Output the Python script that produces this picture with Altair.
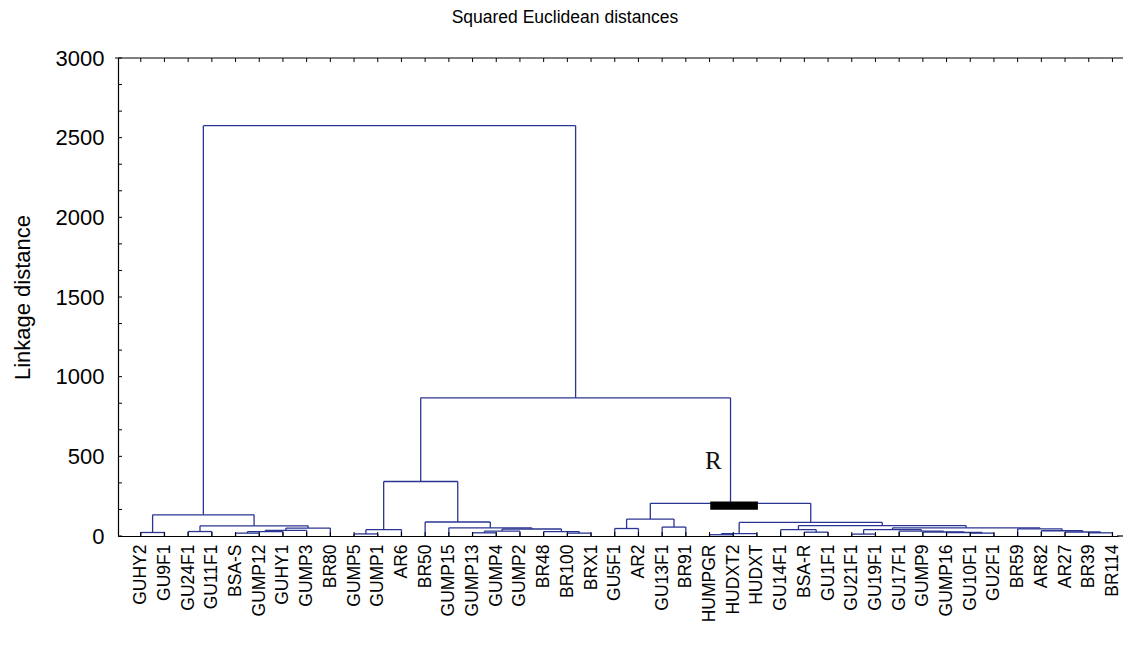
import altair as alt
import pandas as pd
import numpy as np

# ---------------- data ----------------
LEAVES = ["GUHY2", "GU9F1", "GU24F1", "GU11F1", "BSA-S", "GUMP12", "GUHY1", "GUMP3",
          "BR80", "GUMP5", "GUMP1", "AR6", "BR50", "GUMP15", "GUMP13", "GUMP4", "GUMP2",
          "BR48", "BR100", "BRX1", "GU5F1", "AR2", "GU13F1", "BR91", "HUMPGR", "HUDXT2",
          "HUDXT", "GU14F1", "BSA-R", "GU1F1", "GU21F1", "GU19F1", "GU17F1", "GUMP9",
          "GUMP16", "GU10F1", "GU2F1", "BR59", "AR82", "AR27", "BR39", "BR114"]

# merges: (cluster name, left child, right child, linkage distance)
# integers = leaf positions (1-based), strings = earlier clusters
MERGE_NAME = ["a", "b", "c", "d", "e", "f", "g", "h",
              "i", "j", "k", "l", "m", "n", "o", "p", "q", "r",
              "s", "t", "u", "v", "w", "x", "y", "z1", "z2", "z3", "z4", "z5", "z6",
              "z7", "z8", "z9", "z10", "z11", "z12", "z13", "z14", "z15", "root"]
MERGE_LEFT = [1, 3, 5, "c", "d", "e", "b", "a",
              10, "i", 15, "k", 19, 18, "l", 14, 13, "j",
              21, 23, "s", 25, "v", 29, 28, 31, 36, 35, 34, 33, "z1",
              41, 40, 39, 38, "z6", "y", "w", "u", "r", "h"]
MERGE_RIGHT = [2, 4, 6, 7, 8, 9, "f", "g",
               11, 12, 16, 17, 20, "m", "n", "o", "p", "q",
               22, 24, "t", 26, 27, 30, "x", 32, 37, "z2", "z3", "z4", "z5",
               42, "z7", "z8", "z9", "z10", "z11", "z12", "z13", "z14", "z15"]
MERGE_DIST = [22, 28, 18, 28, 35, 50, 64, 133,
              13, 40, 20, 30, 18, 28, 44, 51, 88, 342,
              47, 56, 106, 8, 15, 24, 40, 12, 18, 22, 25, 30, 40,
              20, 25, 33, 45, 51, 65, 85, 205, 867, 2575]

# annotation "R" and its bar
R_LABEL = ["R"]
R_POS = [25.16, 469]
R_BAR_X = [25.03, 27.04]
R_BAR_Y = [165, 217]

TITLE = "Squared Euclidean distances"
Y_TITLE = "Linkage distance"
Y_LABELS = [0, 500, 1000, 1500, 2000, 2500, 3000]

# ---------------- build dendrogram segments ----------------
pos = {i + 1: float(i + 1) for i in range(len(LEAVES))}
hgt = {i + 1: 0.0 for i in range(len(LEAVES))}
segs = []
for nm, l, r, h in zip(MERGE_NAME, MERGE_LEFT, MERGE_RIGHT, MERGE_DIST):
    segs.append(dict(x=pos[l], x2=pos[l], y=hgt[l], y2=h))
    segs.append(dict(x=pos[r], x2=pos[r], y=hgt[r], y2=h))
    segs.append(dict(x=pos[l], x2=pos[r], y=h, y2=h))
    pos[nm] = (pos[l] + pos[r]) / 2
    hgt[nm] = h
seg_df = pd.DataFrame(segs)

leaf_df = pd.DataFrame({"x": np.arange(1, len(LEAVES) + 1), "name": LEAVES})
ytick_df = pd.DataFrame({"y": np.linspace(0, 3000, 19)})
one = pd.DataFrame({"k": [0]})

W, H = 1000, 478
PAD_R = 5
STEP = 23.7
FONT = "Liberation Sans"
LINE = "#2a3592"

xscale = alt.Scale(domain=[0.04, 0.04 + W / STEP], nice=False, zero=False)
yscale = alt.Scale(domain=[0, 3000], nice=False, zero=True)

label_expr = "[" + ",".join("'%s'" % n for n in LEAVES) + "][datum.value - 1]"

X_AXIS = alt.Axis(values=list(range(1, len(LEAVES) + 1)), labelExpr=label_expr,
                  labelAngle=270, labelFontSize=17.5, labelFont=FONT, labelColor="black",
                  labelPadding=8, labelOverlap=False, labelBound=False, labelFlush=False,
                  ticks=False, grid=False, domainColor="black", domainWidth=1.2,
                  title=None)
Y_AXIS = alt.Axis(values=Y_LABELS, format="d", ticks=False, grid=False, labelFontSize=22,
                  labelFont=FONT, labelColor="black", labelPadding=14,
                  domainColor="black", domainWidth=1.2,
                  title=Y_TITLE, titleFont=FONT, titleFontSize=22,
                  titleFontWeight="normal", titleColor="black", titleAngle=270,
                  titleX=-96, titleY=239, titleAlign="center",
                  titleBaseline="middle")


def X(field="x"):
    return alt.X(field + ":Q", scale=xscale, axis=X_AXIS)


def Y(field="y"):
    return alt.Y(field + ":Q", scale=yscale, axis=Y_AXIS)


tree = alt.Chart(seg_df).mark_rule(color=LINE, strokeWidth=1.3).encode(
    x=X(), x2="x2:Q", y=Y(), y2="y2:Q")

bottom_ticks = alt.Chart(leaf_df).mark_rule(color="black", strokeWidth=1).encode(
    x=X(), y=alt.value(H), y2=alt.value(H - 4))
top_ticks = alt.Chart(leaf_df).mark_rule(color="black", strokeWidth=1).encode(
    x=X(), y=alt.value(0), y2=alt.value(4))
left_ticks = alt.Chart(ytick_df).mark_rule(color="black", strokeWidth=1).encode(
    y=Y(), x=alt.value(0), x2=alt.value(4))
top_line = alt.Chart(one).mark_rule(color="black", strokeWidth=1.2).encode(
    x=alt.value(-3), x2=alt.value(W + PAD_R), y=alt.value(0))
bottom_ext = alt.Chart(one).mark_rule(color="black", strokeWidth=1.2).encode(
    x=alt.value(W - 1), x2=alt.value(W + PAD_R), y=alt.value(H))

bar_df = pd.DataFrame({"x": [R_BAR_X[0]], "x2": [R_BAR_X[1]],
                       "y": [R_BAR_Y[0]], "y2": [R_BAR_Y[1]]})
bar = alt.Chart(bar_df).mark_rect(color="black").encode(
    x=X(), x2="x2:Q", y=Y(), y2="y2:Q")

r_df = pd.DataFrame({"x": [R_POS[0]], "y": [R_POS[1]], "t": R_LABEL})
r_text = alt.Chart(r_df).mark_text(font="Liberation Serif", fontSize=25, color="#111",
                                   align="center", baseline="middle").encode(
    x=X(), y=Y(), text="t:N")

title_df = pd.DataFrame({"t": [TITLE]})
title = alt.Chart(title_df).mark_text(font=FONT, fontSize=17.5, color="black",
                                      align="center", baseline="middle").encode(
    x=alt.value(447), y=alt.value(-40), text="t:N")

chart = alt.layer(tree, bottom_ticks, top_ticks, left_ticks, top_line, bottom_ext,
                  bar, r_text, title).properties(
    width=W, height=H,
    padding={"left": 110, "top": 50, "right": PAD_R, "bottom": 100},
    autosize=alt.AutoSizeParams(type="none"),
).configure_view(stroke=None)

chart.save("out.html", embed_options={"renderer": "svg", "actions": False})
